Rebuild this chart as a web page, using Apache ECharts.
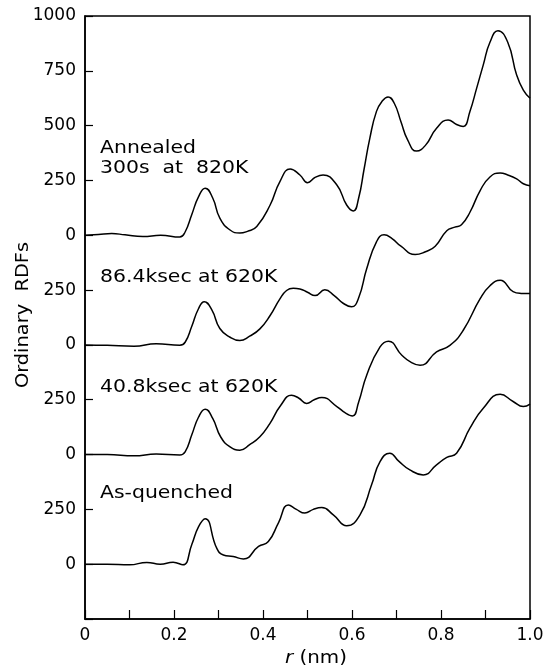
<!DOCTYPE html>
<html>
<head>
<meta charset="utf-8">
<script src="https://cdn.jsdelivr.net/npm/echarts@6/dist/echarts.min.js"></script>
<style>
  html, body { margin: 0; padding: 0; background: #fff; }
  #chart { width: 555px; height: 671px; }
</style>
</head>
<body>
<div id="chart"></div>
<script>
// r values (nm) and RDF values for each curve
var rAnnealed = [0, 0.03, 0.06, 0.09, 0.13, 0.17, 0.213, 0.225, 0.24, 0.255, 0.27, 0.287, 0.303, 0.326, 0.348, 0.365, 0.386, 0.416, 0.438, 0.461, 0.483, 0.5, 0.518, 0.535, 0.566, 0.588, 0.603, 0.615, 0.627, 0.64, 0.655, 0.668, 0.681, 0.695, 0.71, 0.725, 0.745, 0.765, 0.79, 0.816, 0.835, 0.85, 0.865, 0.88, 0.895, 0.91, 0.928, 0.95, 0.97, 0.985, 1.0];
var vAnnealed = [0, 4, 8, 2, -6, 0, -8, 15, 95, 175, 215, 170, 78, 24, 10, 18, 40, 138, 245, 302, 275, 240, 265, 275, 229, 138, 111, 170, 300, 442, 565, 612, 631, 602, 518, 435, 384, 410, 488, 526, 505, 496, 565, 670, 777, 880, 933, 880, 731, 662, 625];

var r864 = [0, 0.05, 0.11, 0.16, 0.213, 0.225, 0.24, 0.255, 0.268, 0.285, 0.303, 0.326, 0.348, 0.37, 0.393, 0.416, 0.438, 0.453, 0.468, 0.483, 0.5, 0.517, 0.539, 0.56, 0.58, 0.599, 0.615, 0.633, 0.655, 0.672, 0.69, 0.71, 0.742, 0.765, 0.787, 0.813, 0.831, 0.846, 0.865, 0.888, 0.91, 0.933, 0.95, 0.97, 0.985, 1.0];
var v864 = [0, -2, -6, 5, -1, 12, 85, 165, 197, 160, 75, 35, 20, 40, 73, 134, 210, 248, 258, 255, 240, 225, 251, 225, 190, 174, 215, 347, 470, 502, 485, 450, 412, 425, 450, 521, 537, 548, 605, 704, 766, 784, 775, 757, 735, 726];

var r408 = [0, 0.05, 0.11, 0.16, 0.213, 0.225, 0.24, 0.255, 0.27, 0.287, 0.305, 0.326, 0.348, 0.37, 0.393, 0.415, 0.44, 0.464, 0.48, 0.498, 0.515, 0.532, 0.566, 0.585, 0.601, 0.615, 0.633, 0.663, 0.682, 0.712, 0.733, 0.753, 0.79, 0.82, 0.85, 0.888, 0.91, 0.933, 0.962, 0.98, 1.0];
var v408 = [0, 0, -6, 2, -2, 12, 90, 170, 207, 165, 80, 35, 20, 45, 81, 140, 225, 270, 258, 233, 250, 260, 219, 190, 176, 240, 362, 491, 517, 453, 420, 407, 468, 498, 567, 711, 770, 795, 743, 735, 734];

var rQuenched = [0, 0.05, 0.1, 0.139, 0.169, 0.198, 0.22, 0.24, 0.255, 0.27, 0.296, 0.311, 0.333, 0.356, 0.39, 0.412, 0.435, 0.457, 0.475, 0.494, 0.513, 0.532, 0.558, 0.588, 0.618, 0.644, 0.663, 0.685, 0.705, 0.73, 0.76, 0.79, 0.813, 0.835, 0.865, 0.895, 0.933, 0.962, 0.985, 1.0];
var vQuenched = [0, 0, -3, 8, 0, 9, -3, 90, 170, 207, 73, 42, 35, 24, 81, 103, 190, 270, 250, 233, 250, 258, 225, 175, 225, 362, 468, 506, 470, 430, 407, 453, 487, 506, 620, 711, 775, 742, 719, 730];

// each curve is shifted up by 500 on the shared axis
var curveOffsets = [0, 500, 1000, 1500];

function makeData(rs, vs, off) {
  var d = [];
  for (var i = 0; i < rs.length; i++) {
    d.push([rs[i], vs[i] + off]);
  }
  return d;
}

function yLabel(v) {
  if (v < 0) return '';
  if (v <= 1750) return (v % 500 === 0) ? '0' : '250';
  return String(v - 1500);
}

var FONT = 'DejaVu Sans';

var curves = [
  makeData(rQuenched, vQuenched, curveOffsets[0]),
  makeData(r408, v408, curveOffsets[1]),
  makeData(r864, v864, curveOffsets[2]),
  makeData(rAnnealed, vAnnealed, curveOffsets[3])
];

var series = curves.map(function (d) {
  return {
    type: 'line',
    data: d,
    smooth: 0.5,
    showSymbol: false,
    lineStyle: { color: '#000', width: 1.5 }
  };
});

function note(text, x, y) {
  return {
    type: 'text', x: x, y: y, scaleX: 1.2,
    style: { text: text, fill: '#000', font: '17px "' + FONT + '"', align: 'left', verticalAlign: 'top' }
  };
}

var myChart = echarts.init(document.getElementById('chart'));
var option = {
  animation: false,
  backgroundColor: '#fff',
  grid: {
    left: 85, right: 25, top: 16, bottom: 52,
    show: true, borderColor: '#000', borderWidth: 1.5, backgroundColor: 'transparent'
  },
  xAxis: {
    type: 'value', min: 0, max: 1, interval: 0.1,
    axisLine: { onZero: false, lineStyle: { color: '#000', width: 1.5 } },
    axisTick: { inside: true, length: 9, lineStyle: { color: '#000', width: 1.2 } },
    splitLine: { show: false },
    axisLabel: {
      margin: 8, color: '#000', fontSize: 17, fontFamily: FONT,
      formatter: function (v) {
        var k = Math.round(v * 10);
        if (k % 2 !== 0) return '';
        if (k === 0) return '0';
        return (k / 10).toFixed(1);
      }
    }
  },
  yAxis: {
    type: 'value', min: -250, max: 2500, interval: 250,
    axisLine: { show: true, onZero: false, lineStyle: { color: '#000', width: 1.5 } },
    axisTick: { show: true, inside: true, length: 8, lineStyle: { color: '#000', width: 1.2 } },
    splitLine: { show: false },
    axisLabel: { margin: 9, color: '#000', fontSize: 17, fontFamily: FONT, formatter: yLabel }
  },
  graphic: [
    note('Annealed', 100, 140),
    note('300s  at  820K', 100, 160),
    note('86.4ksec at 620K', 100, 269),
    note('40.8ksec at 620K', 100, 379),
    note('As-quenched', 100, 485),
    {
      type: 'text', x: 24, y: 315, rotation: Math.PI / 2, scaleX: 1.14,
      style: { text: 'Ordinary  RDFs', fill: '#000', font: '17px "' + FONT + '"', align: 'center', verticalAlign: 'middle' }
    },
    {
      type: 'text', x: 316, y: 650, scaleX: 1.17,
      style: {
        text: '{i|r} (nm)', fill: '#000', font: '17px "' + FONT + '"', align: 'center', verticalAlign: 'top',
        rich: { i: { fontStyle: 'italic', fontSize: 17, fontFamily: FONT, fill: '#000' } }
      }
    }
  ],
  series: series
};
myChart.setOption(option);
</script>
</body>
</html>
